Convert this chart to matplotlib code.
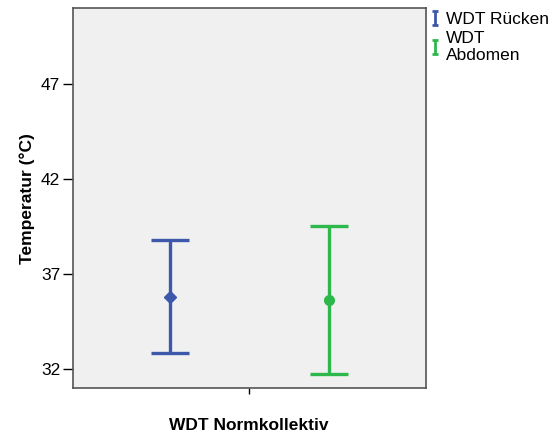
import matplotlib.pyplot as plt
from matplotlib.path import Path
from matplotlib.lines import Line2D

plt.rcParams['font.family'] = ['Liberation Sans', 'DejaVu Sans']

# data
groups = ["WDT Rücken", "WDT\nAbdomen"]
means = [35.8, 35.66]
upper = [38.79, 39.56]
lower = [32.84, 31.77]
markers = ["D", "o"]
colors = ["#3D58AB", "#2DB84B"]
xpos = [0.275, 0.725]

fig = plt.figure(figsize=(5.55, 4.34), dpi=100)
ax = fig.add_axes([0.131, 0.106, 0.636, 0.875])
ax.set_facecolor("#F0F0F0")

for x, m, hi, lo, mk, c in zip(xpos, means, upper, lower, markers, colors):
    ax.errorbar(x, m, yerr=[[m - lo], [hi - m]], fmt=mk, color=c,
                markersize=7 if mk == "o" else 6.5, elinewidth=2.4,
                capsize=14, capthick=2.4, zorder=3)

ax.set_xlim(0, 1)
ax.set_ylim(31.02, 51.0)
ax.set_yticks([32, 37, 42, 47])
ax.set_xticks([0.5])
ax.set_xticklabels([""])
ax.tick_params(axis="y", length=7, width=1, labelsize=12.5, pad=2)
ax.tick_params(axis="x", length=4, width=1)
for s in ax.spines.values():
    s.set_color("#555555")
    s.set_linewidth(1.2)

ax.set_ylabel("Temperatur (°C)", fontsize=12.5, fontweight="bold", labelpad=4)
ax.set_xlabel("WDT Normkollektiv", fontsize=12.5, fontweight="bold", labelpad=14)

# legend with small I-shaped error bar icons
ibar = Path([(-0.5, 1), (0.5, 1), (0, 1), (0, -1), (-0.5, -1), (0.5, -1)],
            [Path.MOVETO, Path.LINETO, Path.MOVETO, Path.LINETO, Path.MOVETO, Path.LINETO])
handles = [Line2D([], [], linestyle="none", marker=ibar, markersize=10,
                  markeredgewidth=2, color=c) for c in colors]
ax.legend(handles, groups, loc="upper left", bbox_to_anchor=(1.0, 1.005),
          frameon=False, fontsize=12.5, handlelength=0.5, handletextpad=0.35,
          borderaxespad=0.1, borderpad=0.2, labelspacing=0.25)

fig.savefig("out.png", dpi=100)
